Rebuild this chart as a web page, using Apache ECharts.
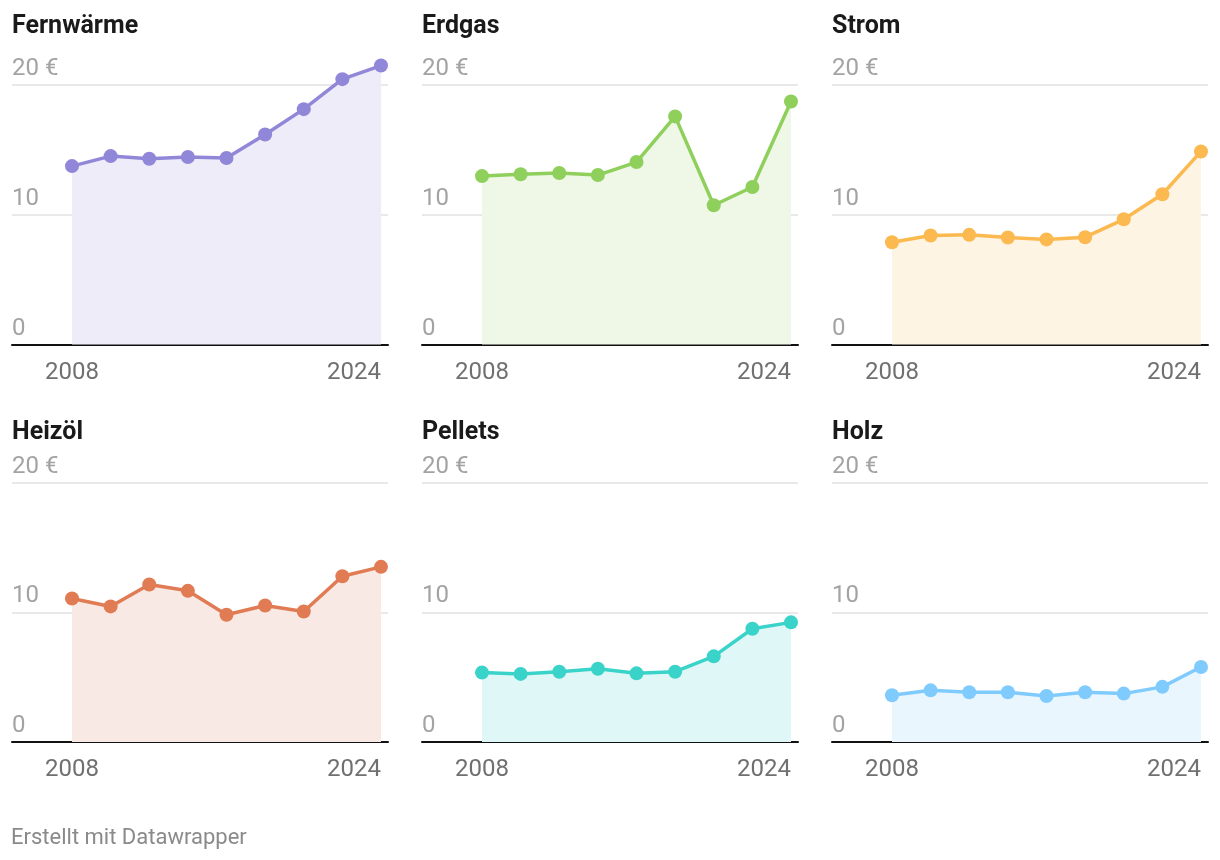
<!DOCTYPE html>
<html>
<head>
<meta charset="utf-8">
<script src="https://cdn.jsdelivr.net/npm/echarts@6/dist/echarts.min.js"></script>
<style>
html,body{margin:0;padding:0;background:#fff;}
#c{width:1220px;height:860px;}
</style>
</head>
<body>
<div id="c"></div>
<script>
const years = [2008, 2010, 2012, 2014, 2016, 2018, 2020, 2022, 2024];
const xTickYears = [2008, 2024];
const yTicks = [0, 10, 20];
const names = ['Fernwärme', 'Erdgas', 'Strom', 'Heizöl', 'Pellets', 'Holz'];
const fernwaerme = [13.75, 14.52, 14.32, 14.45, 14.37, 16.19, 18.14, 20.45, 21.5];
const erdgas = [12.98, 13.12, 13.22, 13.06, 14.06, 17.58, 10.73, 12.14, 18.73];
const strom = [7.88, 8.4, 8.45, 8.25, 8.1, 8.27, 9.65, 11.58, 14.88];
const heizoel = [11.06, 10.45, 12.14, 11.65, 9.81, 10.52, 10.06, 12.78, 13.5];
const pellets = [5.35, 5.25, 5.42, 5.65, 5.29, 5.42, 6.6, 8.73, 9.22];
const holz = [3.6, 3.98, 3.83, 3.83, 3.55, 3.83, 3.73, 4.25, 5.78];
const seriesValues = [fernwaerme, erdgas, strom, heizoel, pellets, holz];
const footerText = 'Erstellt mit Datawrapper';

const lineColors = ['#9187d8', '#8fcf5b', '#fbb950', '#e07b54', '#3ad3c9', '#80cbfd'];
const areaColors = ['#eeecf9', '#eff7e7', '#fef4e3', '#f9e9e4', '#e0f7f8', '#eaf6fe'];

const FONT = 'Roboto, "Noto Sans", sans-serif';
const colLeft = [12, 422, 832];
const rowTop = [85, 482.5];
const titleTop = [14, 420];
const gridW = 376, gridH = 259.5;
const pxPerYear = 309 / 16;
const xMin = 2008 - 60 / pxPerYear;
const xMax = 2024 + 7 / pxPerYear;
const LBL = 24;

const grids = [], xAxes = [], yAxes = [], series = [], titles = [];
names.forEach((name, i) => {
  const r = Math.floor(i / 3), c = i % 3;
  grids.push({left: colLeft[c], top: rowTop[r], width: gridW, height: gridH, containLabel: false});
  titles.push({
    text: name, left: colLeft[c], top: titleTop[r], padding: 0,
    textStyle: {fontFamily: FONT, fontSize: 25, fontWeight: 'bold', color: '#1a1a1a'}
  });
  xAxes.push({
    type: 'value', gridIndex: i, min: xMin, max: xMax,
    axisLine: {show: true, onZero: false, lineStyle: {color: '#111', width: 2}},
    axisTick: {show: false},
    splitLine: {show: false},
    axisLabel: {
      customValues: xTickYears,
      margin: 16,
      fontFamily: FONT, fontSize: LBL, color: '#707070',
      formatter: v => (v === xTickYears[xTickYears.length - 1] ? '{r|' + v + '}' : '{l|' + v + '}'),
      rich: {
        l: {fontFamily: FONT, fontSize: LBL, color: '#707070'},
        r: {fontFamily: FONT, fontSize: LBL, color: '#707070', padding: [0, 54, 0, 0]}
      }
    }
  });
  yAxes.push({
    type: 'value', gridIndex: i, min: yTicks[0], max: yTicks[yTicks.length - 1], interval: yTicks[1] - yTicks[0],
    axisLine: {show: false}, axisTick: {show: false},
    splitLine: {show: true, lineStyle: {color: '#e2e2e2', width: 1.5}},
    axisLabel: {
      inside: true, margin: 0, verticalAlign: 'bottom',
      padding: [0, 0, 4, 0],
      fontFamily: FONT, fontSize: LBL, color: '#a3a3a3',
      formatter: v => (v === yTicks[yTicks.length - 1] ? v + ' €' : '' + v)
    }
  });
  series.push({
    type: 'line', xAxisIndex: i, yAxisIndex: i,
    data: years.map((y, k) => [y, seriesValues[i][k]]),
    clip: false,
    symbol: 'circle', symbolSize: 14,
    lineStyle: {color: lineColors[i], width: 3.5},
    itemStyle: {color: lineColors[i]},
    areaStyle: {color: areaColors[i], opacity: 1},
    z: 2
  });
});
titles.push({
  text: footerText, left: 11, top: 827, padding: 0,
  textStyle: {fontFamily: FONT, fontSize: 22, fontWeight: 'normal', color: '#8a8a8a'}
});

const chart = echarts.init(document.getElementById('c'), null, {renderer: 'canvas'});
chart.setOption({
  animation: false,
  backgroundColor: '#ffffff',
  title: titles,
  grid: grids,
  xAxis: xAxes,
  yAxis: yAxes,
  series: series
});
</script>
</body>
</html>
